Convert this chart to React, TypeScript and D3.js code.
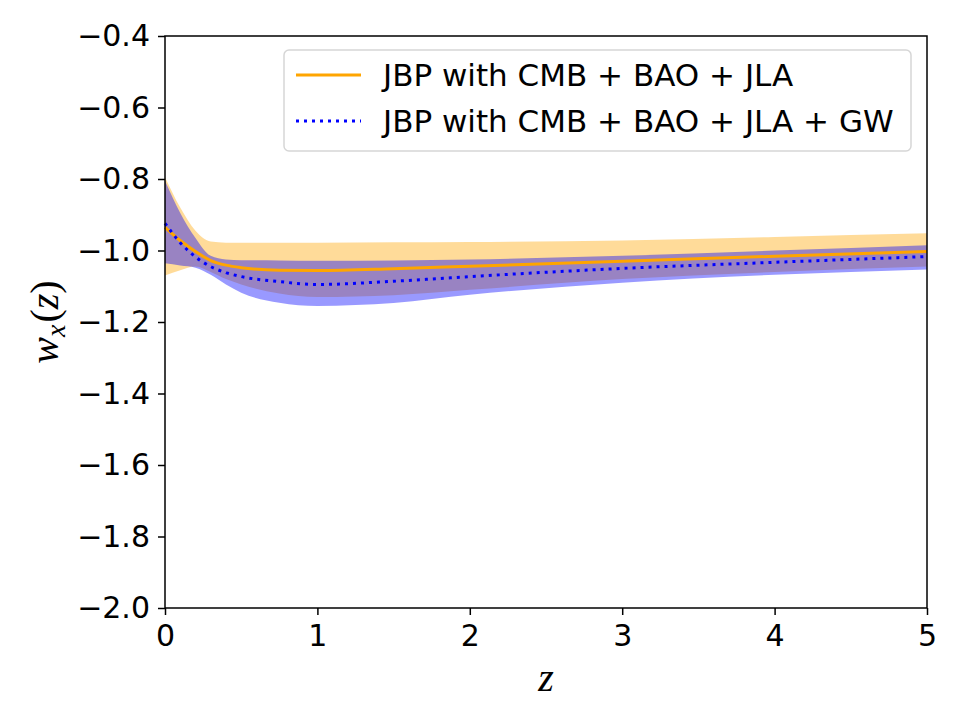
import React, { useEffect, useRef } from 'react';
import * as d3 from 'd3';

// redshift grid
const zGrid = [0, 0.1, 0.2, 0.3, 0.4, 0.5, 0.75, 1, 1.5, 2, 3, 4, 5];

// JBP with CMB + BAO + JLA
const orangeMean = [-0.935, -0.972, -1.003, -1.028, -1.041, -1.048, -1.055, -1.056, -1.051, -1.044, -1.03, -1.016, -1.003];
const orangeHi = [-0.795, -0.88, -0.945, -0.975, -0.978, -0.978, -0.978, -0.978, -0.977, -0.976, -0.972, -0.962, -0.952];
const orangeLo = [-1.07, -1.055, -1.045, -1.06, -1.08, -1.095, -1.12, -1.13, -1.125, -1.11, -1.08, -1.06, -1.045];

// JBP with CMB + BAO + JLA + GW
const blueMean = [-0.924, -0.978, -1.018, -1.045, -1.062, -1.073, -1.087, -1.095, -1.086, -1.073, -1.05, -1.033, -1.017];
const blueHi = [-0.805, -0.895, -0.965, -1.015, -1.025, -1.027, -1.028, -1.029, -1.028, -1.025, -1.015, -1.0, -0.985];
const blueLo = [-1.036, -1.042, -1.048, -1.068, -1.095, -1.118, -1.146, -1.155, -1.147, -1.124, -1.09, -1.068, -1.053];

const xTicks = [0, 1, 2, 3, 4, 5];
const yTicks = [-0.4, -0.6, -0.8, -1.0, -1.2, -1.4, -1.6, -1.8, -2.0];
const legendLabels = ['JBP with CMB + BAO + JLA', 'JBP with CMB + BAO + JLA + GW'];

const App = () => {
  const svgRef = useRef<SVGSVGElement>(null);

  useEffect(() => {
    const svg = d3.select(svgRef.current);
    svg.selectAll('*').remove();

    const width = 960;
    const height = 720;
    const margin = { top: 36, right: 33, bottom: 112, left: 165 };
    const font = 'DejaVu Sans, sans-serif';
    const mathFont = 'Liberation Serif, DejaVu Serif, serif';

    const x = d3.scaleLinear().domain([0, 5]).range([margin.left, width - margin.right]);
    const y = d3.scaleLinear().domain([-2.0, -0.4]).range([height - margin.bottom, margin.top]);

    const g = svg.append('g');

    const band = (hi: number[], lo: number[]) =>
      d3.area<number>()
        .x(d => x(d))
        .y0((d, i) => y(lo[i]))
        .y1((d, i) => y(hi[i]))
        .curve(d3.curveMonotoneX)(zGrid);

    const line = (vals: number[]) =>
      d3.line<number>()
        .x(d => x(d))
        .y((d, i) => y(vals[i]))
        .curve(d3.curveMonotoneX)(zGrid);

    g.append('path').attr('d', band(orangeHi, orangeLo)).attr('fill', '#FFA500').attr('fill-opacity', 0.4);
    g.append('path').attr('d', band(blueHi, blueLo)).attr('fill', '#0000FF').attr('fill-opacity', 0.4);

    g.append('path').attr('d', line(orangeMean))
      .attr('fill', 'none').attr('stroke', '#FFA500').attr('stroke-width', 3);
    g.append('path').attr('d', line(blueMean))
      .attr('fill', 'none').attr('stroke', '#0000FF').attr('stroke-width', 3)
      .attr('stroke-dasharray', '3,5');

    // axes
    const xAxis = g.append('g')
      .attr('transform', `translate(0,${height - margin.bottom})`)
      .call(d3.axisBottom(x).tickValues(xTicks).tickFormat(d3.format('d')).tickSize(7).tickPadding(10));
    const yAxis = g.append('g')
      .attr('transform', `translate(${margin.left},0)`)
      .call(d3.axisLeft(y).tickValues(yTicks).tickSize(7).tickPadding(8)
        .tickFormat(d => d3.format('.1f')(d as number).replace('-', '\u2212')));

    [xAxis, yAxis].forEach(a => {
      a.select('.domain').remove();
      a.selectAll('line').attr('stroke', '#000').attr('stroke-width', 1.5);
      a.selectAll('text').attr('fill', '#000').style('font-family', font).style('font-size', '30px');
    });

    // frame
    g.append('rect')
      .attr('x', margin.left).attr('y', margin.top)
      .attr('width', width - margin.left - margin.right)
      .attr('height', height - margin.top - margin.bottom)
      .attr('fill', 'none').attr('stroke', '#000').attr('stroke-width', 1.5);

    // axis labels
    g.append('text')
      .attr('x', x(2.5)).attr('y', 691)
      .attr('text-anchor', 'middle')
      .style('font-family', mathFont).style('font-style', 'italic').style('font-size', '40px')
      .text('z');

    const yl = g.append('text')
      .attr('transform', `translate(58,${y(-1.2)}) rotate(-90)`)
      .attr('text-anchor', 'middle')
      .style('font-family', mathFont).style('font-size', '40px');
    yl.append('tspan').style('font-style', 'italic').text('w');
    yl.append('tspan').style('font-style', 'italic').style('font-size', '28px').attr('dy', 7).text('x');
    yl.append('tspan').attr('dy', -7).attr('dx', 2).text('(');
    yl.append('tspan').style('font-style', 'italic').text('z');
    yl.append('tspan').text(')');

    // legend
    const lg = g.append('g');
    lg.append('rect')
      .attr('x', 284).attr('y', 50).attr('width', 627).attr('height', 101)
      .attr('rx', 5).attr('fill', '#fff').attr('fill-opacity', 0.8)
      .attr('stroke', '#d6d6d6').attr('stroke-width', 1.5);
    const rows = [
      { label: legendLabels[0], color: '#FFA500', dash: null, yy: 75 },
      { label: legendLabels[1], color: '#0000FF', dash: '3,5', yy: 121 },
    ];
    rows.forEach(r => {
      lg.append('line')
        .attr('x1', 296).attr('x2', 361).attr('y1', r.yy).attr('y2', r.yy)
        .attr('stroke', r.color).attr('stroke-width', 3)
        .attr('stroke-dasharray', r.dash);
      lg.append('text')
        .attr('x', 383).attr('y', r.yy).attr('dy', '0.365em')
        .style('font-family', font).style('font-size', '31px')
        .text(r.label);
    });
  }, []);

  return (
    <svg ref={svgRef} width={960} height={720}
      style={{ position: 'absolute', left: 0, top: 0, background: '#fff' }} />
  );
};

export default App;
